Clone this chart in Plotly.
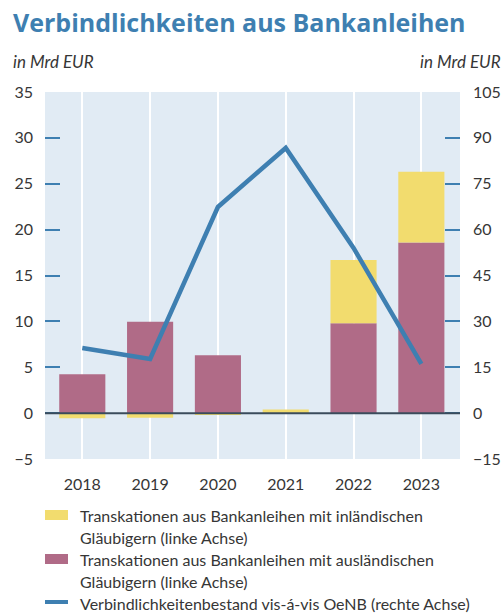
import plotly.graph_objects as go

# data
years = ["2018", "2019", "2020", "2021", "2022", "2023"]
auslaendisch = [4.25, 9.95, 6.3, 0.0, 9.8, 18.6]      # linke Achse
inlaendisch = [-0.55, -0.5, -0.15, 0.4, 6.9, 7.7]     # linke Achse
bestand_oenb = [21.3, 17.7, 67.4, 86.7, 54.0, 16.1]  # rechte Achse

left_ticks = list(range(-5, 36, 5))
right_ticks = list(range(-15, 106, 15))

legend_rows = [
    ("#f2dc6e", "bar", ["Transkationen aus Bankanleihen mit inländischen",
                        "Gläubigern (linke Achse)"]),
    ("#b06b87", "bar", ["Transkationen aus Bankanleihen mit ausländischen",
                        "Gläubigern (linke Achse)"]),
    ("#3e7fb1", "line", ["Verbindlichkeitenbestand vis-á-vis OeNB (rechte Achse)"]),
]

C = {
    "title": "#3e7fb1",
    "plot": "#e1ebf4",
    "tick": "#3e7fb1",
    "text": "#363636",
    "zero": "#3a4b5b",
}
FONT = "Lato, Open Sans, sans-serif"

W, H = 504, 614
L, R, T, B = 45, 44, 92, 155
PW, PH = W - L - R, H - T - B


def px_x(x):
    return (x - L) / PW


def px_y(y):
    return (H - B - y) / PH


fig = go.Figure()
fig.add_trace(go.Bar(x=years, y=auslaendisch, marker_color="#b06b87", width=0.68,
                     marker_line_width=0, yaxis="y"))
fig.add_trace(go.Bar(x=years, y=inlaendisch, marker_color="#f2dc6e", width=0.68,
                     marker_line_width=0, yaxis="y"))
fig.add_trace(go.Scatter(x=years, y=bestand_oenb, mode="lines", yaxis="y2",
                         line=dict(color="#3e7fb1", width=4.5)))

tickfont = dict(size=16, color=C["text"])
fig.update_layout(
    width=W, height=H,
    margin=dict(l=L, r=R, t=T, b=B, autoexpand=False),
    paper_bgcolor="white",
    plot_bgcolor=C["plot"],
    barmode="relative",
    showlegend=False,
    font=dict(family=FONT, size=15, color=C["text"]),
    xaxis=dict(range=[-0.55, 5.57], showgrid=True, gridcolor="white", gridwidth=1.5,
               ticks="", showline=False, zeroline=False, automargin=False,
               tickfont=tickfont, ticklabelstandoff=14),
    yaxis=dict(range=[-5, 35], tickvals=left_ticks, showgrid=False, zeroline=False,
               ticks="inside", ticklen=15, tickcolor=C["tick"], tickwidth=1.5,
               showline=False, tickfont=tickfont, ticklabelstandoff=11,
               automargin=False),
    yaxis2=dict(range=[-15, 105], tickvals=right_ticks, overlaying="y", side="right",
                showgrid=False, zeroline=False, ticks="inside", ticklen=15,
                tickcolor=C["tick"], tickwidth=1.5, showline=False,
                tickfont=tickfont, ticklabelstandoff=12, automargin=False),
)

# zero line above the bars
fig.add_shape(type="line", xref="paper", yref="y", x0=0, x1=1, y0=0, y1=0,
              line=dict(color=C["zero"], width=2), layer="above")

annotations = [
    dict(text="<b>Verbindlichkeiten aus Bankanleihen</b>", x=px_x(11), y=px_y(22),
         xanchor="left", yanchor="middle",
         font=dict(family="Open Sans, Lato, sans-serif", size=25, color=C["title"])),
    dict(text="<i>in Mrd EUR</i>", x=px_x(11), y=px_y(62), xanchor="left",
         yanchor="middle", font=dict(size=17, color=C["text"])),
    dict(text="<i>in Mrd EUR</i>", x=px_x(503), y=px_y(62), xanchor="right",
         yanchor="middle", font=dict(size=17, color=C["text"])),
]

row_y = 515
for color, kind, lines in legend_rows:
    if kind == "bar":
        fig.add_shape(type="rect", xref="paper", yref="paper", x0=px_x(45), x1=px_x(68),
                      y0=px_y(row_y - 5), y1=px_y(row_y + 5), fillcolor=color,
                      line_width=0)
    else:
        fig.add_shape(type="line", xref="paper", yref="paper", x0=px_x(45), x1=px_x(68),
                      y0=px_y(row_y - 1), y1=px_y(row_y - 1),
                      line=dict(color=color, width=4))
    for i, line in enumerate(lines):
        annotations.append(dict(text=line, x=px_x(78), y=px_y(row_y + 22 * i),
                                xanchor="left", yanchor="middle",
                                font=dict(size=16, color=C["text"])))
    row_y += 22 * len(lines)

for a in annotations:
    a.update(xref="paper", yref="paper", showarrow=False)
fig.update_layout(annotations=annotations)

# drop the page's default body margin so the figure sits at the top-left corner
fig.write_html("out.html", config={"displayModeBar": False},
               post_script="document.body.style.margin='0';")
